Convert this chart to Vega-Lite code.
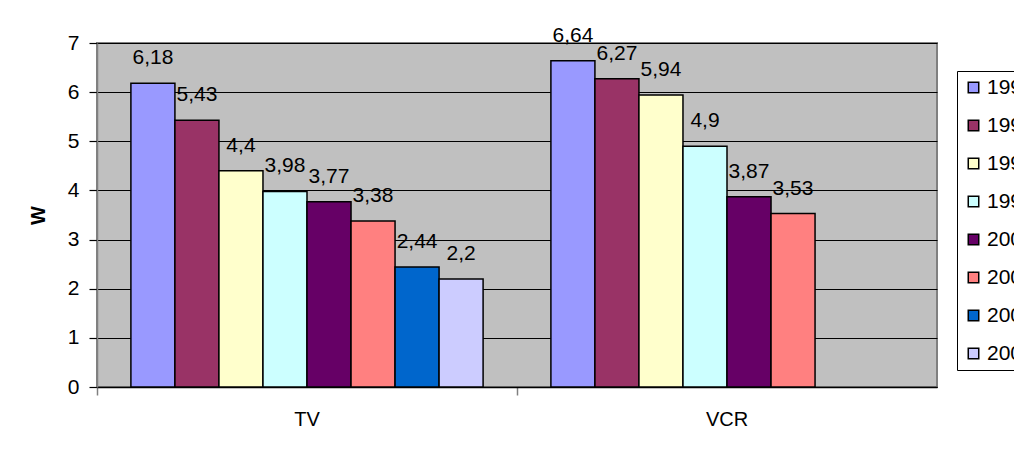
{
  "$schema": "https://vega.github.io/schema/vega-lite/v6.json",
  "autosize": {"type": "none"},
  "width": 840,
  "height": 344,
  "padding": {"left": 97, "top": 43, "right": 77, "bottom": 71},
  "background": "white",
  "data": {
    "values": [
      {"device": "TV", "year": "1996", "w": 6.18},
      {"device": "TV", "year": "1997", "w": 5.43},
      {"device": "TV", "year": "1998", "w": 4.4},
      {"device": "TV", "year": "1999", "w": 3.98},
      {"device": "TV", "year": "2000", "w": 3.77},
      {"device": "TV", "year": "2001", "w": 3.38},
      {"device": "TV", "year": "2002", "w": 2.44},
      {"device": "TV", "year": "2003", "w": 2.2},
      {"device": "VCR", "year": "1996", "w": 6.64},
      {"device": "VCR", "year": "1997", "w": 6.27},
      {"device": "VCR", "year": "1998", "w": 5.94},
      {"device": "VCR", "year": "1999", "w": 4.9},
      {"device": "VCR", "year": "2000", "w": 3.87},
      {"device": "VCR", "year": "2001", "w": 3.53}
    ]
  },
  "encoding": {
    "x": {
      "field": "device",
      "type": "nominal",
      "scale": {"paddingInner": 0, "paddingOuter": 0},
      "axis": {
        "title": null,
        "labelAngle": 0,
        "labelFont": "Liberation Sans",
        "labelFontSize": 20,
        "labelColor": "black",
        "labelPadding": 14,
        "bandPosition": 0,
        "tickColor": "#808080",
        "tickSize": 8,
        "tickWidth": 1.5,
        "domainColor": "black",
        "domainWidth": 1.5
      }
    },
    "xOffset": {
      "field": "year",
      "type": "nominal",
      "scale": {
        "domain": ["1996", "1997", "1998", "1999", "2000", "2001", "2002", "2003"],
        "paddingInner": 0,
        "paddingOuter": 0.77
      }
    },
    "y": {
      "field": "w",
      "type": "quantitative",
      "scale": {"domain": [0, 7], "nice": false},
      "axis": {
        "title": "W",
        "titleFont": "Liberation Sans",
        "titleFontSize": 20,
        "titleFontWeight": "bold",
        "titleColor": "black",
        "titlePadding": 19,
        "values": [0, 1, 2, 3, 4, 5, 6, 7],
        "labelFont": "Liberation Sans",
        "labelFontSize": 21,
        "labelColor": "black",
        "labelPadding": 10,
        "tickColor": "black",
        "tickSize": 8,
        "tickWidth": 1.2,
        "grid": true,
        "gridColor": "black",
        "gridWidth": 1,
        "domainColor": "#808080",
        "domainWidth": 1.5
      }
    }
  },
  "layer": [
    {
      "mark": {"type": "bar", "stroke": "black", "strokeWidth": 1.5},
      "encoding": {
        "color": {
          "field": "year",
          "type": "nominal",
          "scale": {
            "domain": ["1996", "1997", "1998", "1999", "2000", "2001", "2002", "2003"],
            "range": ["#9999FF", "#993366", "#FFFFCC", "#CCFFFF", "#660066", "#FF8080", "#0066CC", "#CCCCFF"]
          },
          "legend": {
            "title": null,
            "orient": "none",
            "legendX": 860,
            "legendY": 28,
            "direction": "vertical",
            "strokeColor": "black",
            "fillColor": "white",
            "padding": 6,
            "rowPadding": 16,
            "symbolType": "square",
            "symbolSize": 110,
            "symbolStrokeColor": "black",
            "symbolStrokeWidth": 1.5,
            "symbolOpacity": 1,
            "labelFont": "Liberation Sans",
            "labelFontSize": 21,
            "labelColor": "black",
            "labelOffset": 3
          }
        }
      }
    },
    {
      "mark": {
        "type": "text",
        "font": "Liberation Sans",
        "fontSize": 21,
        "color": "black",
        "baseline": "middle",
        "dy": -25
      },
      "encoding": {
        "text": {"field": "w", "type": "quantitative", "format": "~g"}
      }
    }
  ],
  "config": {
    "locale": {
      "number": {"decimal": ",", "thousands": " ", "grouping": [3], "currency": ["", ""]}
    },
    "view": {"fill": "#C0C0C0", "stroke": "#808080", "strokeWidth": 2}
  }
}
